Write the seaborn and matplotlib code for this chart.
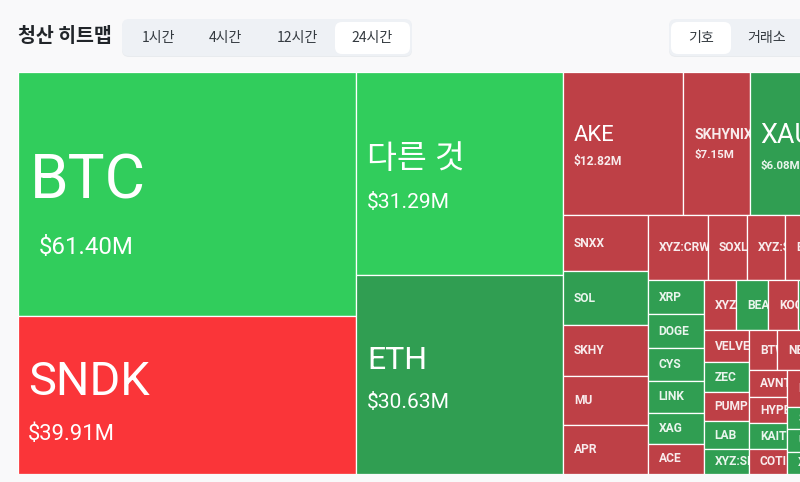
#!/usr/bin/env python3
"""
    liquidation heatmap (treemap, tile area = liquidated amount)
"""

import seaborn as sns
import matplotlib.pyplot as plt
from matplotlib.patches import Rectangle, FancyBboxPatch

# amounts in $M, tiles without a printed amount are estimated from their area
majors_a = ["BTC", "SNDK"]
majors_a_vals = [61.40, 39.91]
majors_b = ["다른 것", "ETH"]
majors_b_vals = [31.29, 30.63]
top_row = ["AKE", "SKHYNIX", "XAU"]
top_row_vals = [12.82, 7.15, 6.08]
col_a = ["SNXX", "SOL", "SKHY", "MU", "APR"]
col_a_vals = [3.54, 3.41, 3.22, 3.09, 3.09]
row_b = ["XYZ:CRWV", "SOXL", "XYZ:SNDK", "BE"]
row_b_vals = [2.91, 1.89, 1.85, 1.07]
col_c = ["XRP", "DOGE", "CYS", "LINK", "XAG", "ACE"]
col_c_vals = [1.42, 1.42, 1.38, 1.34, 1.30, 1.26]
row_d = ["XYZ:A", "BEAT", "KOGE", ""]
row_d_vals = [1.20, 1.20, 1.12, 0.33]
col_e = ["VELVET", "ZEC", "PUMP", "LAB", "XYZ:SILVER"]
col_e_vals = [1.08, 1.01, 0.98, 0.94, 0.84]
row_f = ["BTW", "NEAR"]
row_f_vals = [0.84, 0.89]
col_g = ["AVNT", "HYPE", "KAITO", "COTI"]
col_g_vals = [0.77, 0.74, 0.74, 0.71]
col_h = ["M", "S", "U", "X"]
col_h_vals = [0.55, 0.33, 0.33, 0.33]

bright = ["BTC", "다른 것", "SNDK"]
reds = ["SNDK", "AKE", "SKHYNIX", "SNXX", "SKHY", "MU", "APR", "XYZ:CRWV", "SOXL",
        "XYZ:SNDK", "BE", "ACE", "XYZ:A", "KOGE", "VELVET", "PUMP", "BTW", "NEAR",
        "AVNT", "HYPE", "COTI", "M"]

periods = ["1시간", "4시간", "12시간", "24시간"]
groupings = ["기호", "거래소"]

# name px, amount px, name dy, amount dy, left pad
big_labels = {
    "BTC": (62, 24, -13, 53, 12),
    "SNDK": (47, 22, -13, 40, 10),
    "다른 것": (32.5, 21, -15, 29, 11),
    "ETH": (32, 21, -14, 28, 11),
    "AKE": (22, 12, -8, 18, 11),
    "SKHYNIX": (14, 11.5, -9, 11, 11),
    "XAU": (27, 11.5, -8, 22, 10),
}
amounts = dict(zip(majors_a + majors_b + top_row,
                   majors_a_vals + majors_b_vals + top_row_vals))

PX = 1 / 100 * 72  # css px to pt
HEAD_FONT = ['Noto Sans CJK KR', 'DejaVu Sans']
TILE_FONT = ['Roboto', 'Noto Sans CJK KR']

sns.set_theme(style="white")
plt.rcParams['font.family'] = HEAD_FONT
colors = sns.color_palette(["#31CD5C", "#FA3539", "#309E52", "#BE4046"])
PAGE = "#F9F9FA"


def group(names, vals):
    return list(zip(names, vals))


def total(node):
    if isinstance(node, tuple):
        return node[1]
    return sum(total(n) for n in node)


def layout(node, x, y, w, h, horizontal=True):
    # slice and dice, direction flips on every level
    if isinstance(node, tuple):
        yield node[0], x, y, w, h
        return
    s = total(node)
    for child in node:
        part = total(child) / s
        if horizontal:
            yield from layout(child, x, y, w * part, h, False)
            x += w * part
        else:
            yield from layout(child, x, y, w, h * part, True)
            y += h * part


right_part = [group(row_f, row_f_vals), [group(col_g, col_g_vals), group(col_h, col_h_vals)]]
lower_part = [group(row_d, row_d_vals), [group(col_e, col_e_vals), right_part]]
small_part = [group(row_b, row_b_vals), [group(col_c, col_c_vals), lower_part]]
root = [
    group(majors_a, majors_a_vals),
    group(majors_b, majors_b_vals),
    [group(top_row, top_row_vals), [group(col_a, col_a_vals), small_part]],
]

fig = plt.figure(figsize=(8, 4.82), dpi=100, facecolor=PAGE)

# header
bar = fig.add_axes([0, 0, 1, 1], zorder=1)
bar.set_xlim(0, 800)
bar.set_ylim(482, 0)
bar.axis("off")


def pill(x0, x1, y0, y1, color, rad=7, **kw):
    bar.add_patch(FancyBboxPatch((x0 + rad, y0 + rad), x1 - x0 - 2 * rad, y1 - y0 - 2 * rad,
                                 boxstyle=f"round,pad={rad},rounding_size={rad}",
                                 fc=color, ec="none", **kw))


bar.text(18, 37, "청산 히트맵", fontsize=19.5 * PX, fontweight="bold", color="#212529",
         va="center", ha="left")
pill(122, 412, 20, 57, "#DEE2E6", alpha=0.6)
pill(122, 412, 19, 56, "#EEF1F5")
pill(335, 410, 22, 54, "white")
for label, cx in zip(periods, [158.5, 225.5, 297.5, 372]):
    bar.text(cx, 38, label, fontsize=14 * PX, color="#343A40", ha="center", va="center")
pill(669, 860, 20, 57, "#DEE2E6", alpha=0.6)
pill(669, 860, 19, 56, "#EEF1F5")
pill(671, 731, 22, 54, "white")
for label, cx in zip(groupings, [701.5, 767]):
    bar.text(cx, 38, label, fontsize=14 * PX, color="#343A40", ha="center", va="center")

# treemap, runs off the right edge of the page
px_per_unit = 338 / sum(majors_a_vals)
ax = fig.add_axes([18.3 / 800, (482 - 474) / 482, 781.7 / 800, 401.7 / 482], zorder=2)
ax.set_xlim(0, 781.7 / px_per_unit)
ax.set_ylim(1, 0)
ax.axis("off")

for name, x, y, w, h in layout(root, 0, 0, total(root), 1):
    red = name in reds
    if name in bright:
        color = colors[1] if red else colors[0]
    else:
        color = colors[3] if red else colors[2]
    rect = Rectangle((x, y), w, h, fc=color, ec="white", lw=0.9)
    ax.add_patch(rect)
    name_px, amount_px, name_dy, amount_dy, pad = big_labels.get(name, (12, None, 0, 0, 11))
    anchor = (x, y + h / 2)
    t = ax.annotate(name, anchor, xytext=(pad * PX, -name_dy * PX), textcoords="offset points",
                    fontsize=name_px * PX, color="white", va="center", ha="left",
                    family=TILE_FONT, fontweight="bold" if name_px < 20 else "normal",
                    annotation_clip=False, alpha=0.9 if name_px < 20 else 1)
    t.set_clip_path(rect)
    if amount_px:
        shift = 8 if name == "BTC" else 0
        a = ax.annotate(f"${amounts[name]:.2f}M", anchor,
                        xytext=((pad + shift) * PX, -amount_dy * PX),
                        textcoords="offset points", fontsize=amount_px * PX, color="white",
                        va="center", ha="left", family=TILE_FONT,
                        fontweight="bold" if amount_px < 20 else "normal",
                        annotation_clip=False, alpha=0.9 if amount_px < 20 else 1)
        a.set_clip_path(rect)

fig.savefig("out.png", dpi=100, facecolor=PAGE)
plt.close()
